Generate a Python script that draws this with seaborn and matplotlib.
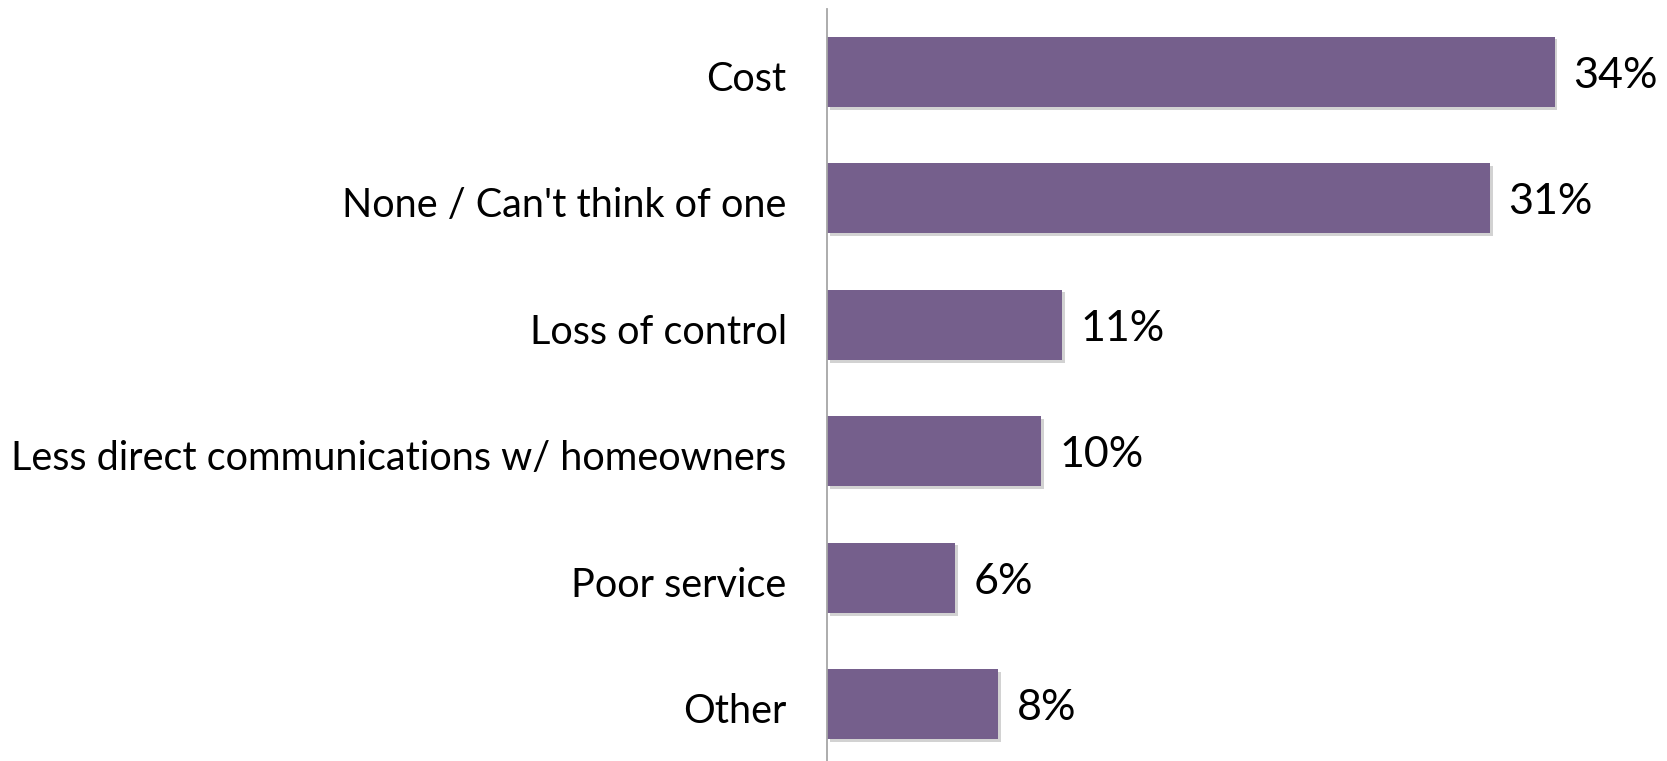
import matplotlib
matplotlib.use("Agg")
import matplotlib.pyplot as plt
import matplotlib.patheffects as pe
import matplotlib.transforms as mtransforms
import seaborn as sns
import pandas as pd

categories = [
    "Cost",
    "None / Can't think of one",
    "Loss of control",
    "Less direct communications w/ homeowners",
    "Poor service",
    "Other",
]
values = [34, 31, 11, 10, 6, 8]
value_labels = ["34%", "31%", "11%", "10%", "6%", "8%"]

df = pd.DataFrame({"reason": categories, "share": values})

sns.set_theme(style="white")
plt.rcParams["font.family"] = ["Lato", "DejaVu Sans"]

fig = plt.figure(figsize=(16.67, 7.61), dpi=100)
ax = fig.add_axes([827 / 1667, -0.0085, (1667 - 827) / 1667, 1 - 8.5 / 761 + 0.0085])

bar_color = "#755f8c"
sns.barplot(data=df, y="reason", x="share", orient="h", color=bar_color,
            width=0.555, saturation=1, ax=ax)

for patch in ax.patches:
    patch.set_edgecolor("none")
    patch.set_path_effects([
        pe.SimplePatchShadow(offset=(2, -2), shadow_rgbFace="#808080", alpha=0.35),
        pe.Normal(),
    ])

# nudge all text slightly below the bar centre line
shift = mtransforms.ScaledTranslation(0, -4 / 100, fig.dpi_scale_trans)

for i, (v, lab) in enumerate(zip(values, value_labels)):
    ax.text(v + 0.85, i, lab, va="center", ha="left", fontsize=31, color="#000000",
            transform=ax.transData + shift)

ax.set_xlim(0, 39.25)
ax.set_ylim(5.5, -0.5)
ax.set_xlabel("")
ax.set_ylabel("")
ax.set_xticks([])
ax.tick_params(axis="y", length=0, pad=29, labelsize=28.5, labelcolor="#000000")
for lbl in ax.get_yticklabels():
    lbl.set_transform(lbl.get_transform() + shift)
for s in ["top", "right", "bottom"]:
    ax.spines[s].set_visible(False)
ax.spines["left"].set_color("#a6a6a6")
ax.spines["left"].set_linewidth(1.3)

fig.savefig("out.png", dpi=100)
